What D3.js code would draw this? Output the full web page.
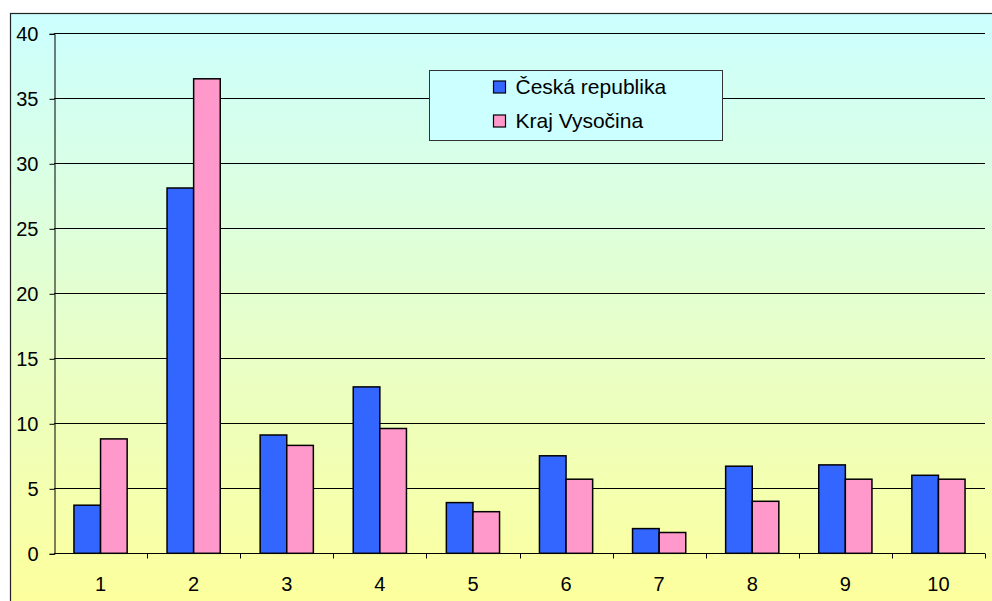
<!DOCTYPE html>
<html>
  <head>
    <meta charset="utf-8">
    <title>Česká republika / Kraj Vysočina</title>
    <style type="text/css">
        body{
            margin: 0;
            background: #ffffff;
        }
        svg text{
            font-family: "Liberation Sans", Arial, sans-serif;
            fill: #000;
        }
    </style>
  </head>
  <body>
    <div id="chart"></div>

    <script src="https://cdn.jsdelivr.net/npm/d3@7"></script>
    <script>
        // values
        var categories = ["1", "2", "3", "4", "5", "6", "7", "8", "9", "10"];
        var seriesNames = ["Česká republika", "Kraj Vysočina"];
        var ceskaRepublika = [3.7, 28.1, 9.1, 12.8, 3.9, 7.5, 1.9, 6.7, 6.8, 6.0];
        var krajVysocina = [8.8, 36.5, 8.3, 9.6, 3.2, 5.7, 1.6, 4.0, 5.7, 5.7];
        var yTicks = [0, 5, 10, 15, 20, 25, 30, 35, 40];
        var colors = ["#3366FF", "#FF99CC"];

        var width = 992, height = 601;

        var svg = d3.select("#chart").append("svg")
            .attr("width", width)
            .attr("height", height);

        //  Background gradient of the chart frame
        var defs = svg.append("defs");
        var grad = defs.append("linearGradient")
            .attr("id", "bg")
            .attr("x1", 0).attr("y1", 0)
            .attr("x2", 0).attr("y2", 1);
        grad.append("stop").attr("offset", "0%").attr("stop-color", "#CCFFFF");
        grad.append("stop").attr("offset", "100%").attr("stop-color", "#FFFF99");

        svg.append("rect")
            .attr("x", 10.5).attr("y", 13.5)
            .attr("width", 1000).attr("height", 610)
            .attr("fill", "url(#bg)")
            .attr("stroke", "#222")
            .attr("stroke-width", 1.2);

        var margin = {left: 54, top: 33.3, right: 985, bottom: 553.3};

        var x = d3.scaleBand()
            .domain(categories)
            .range([margin.left, margin.right])
            .paddingInner(0)
            .paddingOuter(0);

        //  Excel style gap width 150%
        var inner = d3.scaleBand()
            .domain(seriesNames)
            .range([0, x.bandwidth()])
            .paddingOuter(0.75)
            .paddingInner(0);

        var y = d3.scaleLinear()
            .domain([0, 40])
            .range([margin.bottom, margin.top]);

        //  Gridlines
        svg.append("g")
            .selectAll("line")
            .data(yTicks.slice(1))
            .enter().append("line")
            .attr("x1", margin.left)
            .attr("x2", margin.right)
            .attr("y1", (d) => Math.round(y(d)) + 0.5)
            .attr("y2", (d) => Math.round(y(d)) + 0.5)
            .attr("stroke", "#000")
            .attr("stroke-width", 1);

        //  Bars
        var series = [ceskaRepublika, krajVysocina];
        var bars = svg.append("g");
        series.forEach(function (vals, s) {
            bars.selectAll(".s" + s)
                .data(vals)
                .enter().append("rect")
                .attr("class", "s" + s)
                .attr("x", (d, i) => x(categories[i]) + inner(seriesNames[s]))
                .attr("y", (d) => y(d))
                .attr("width", inner.bandwidth())
                .attr("height", (d) => y(0) - y(d))
                .attr("fill", colors[s])
                .attr("stroke", "#000")
                .attr("stroke-width", 1.5);
        });

        //  Y axis
        var yAxis = d3.axisLeft(y)
            .tickValues(yTicks)
            .tickSize(5)
            .tickPadding(11)
            .tickFormat(d3.format("d"));
        var gy = svg.append("g")
            .attr("transform", "translate(" + (margin.left + 0.5) + ",0.5)")
            .call(yAxis);
        gy.select(".domain").attr("stroke", "#000");
        gy.selectAll(".tick line").attr("stroke", "#000");
        gy.selectAll("text").style("font-size", "20px");

        //  X axis
        var xAxis = d3.axisBottom(x)
            .tickSize(0)
            .tickPadding(23);
        var gx = svg.append("g")
            .attr("transform", "translate(0," + (Math.round(y(0)) + 0.5) + ")")
            .call(xAxis);
        gx.select(".domain").attr("stroke", "#000").attr("d", "M" + margin.left + ",0H" + margin.right);
        gx.selectAll("text").style("font-size", "20px");

        //  Tick marks between categories
        var bounds = categories.map((c) => x(c)).concat([margin.right]).slice(1);
        gx.selectAll(".sep")
            .data(bounds)
            .enter().append("line")
            .attr("class", "sep")
            .attr("x1", (d) => Math.round(d) + 0.5)
            .attr("x2", (d) => Math.round(d) + 0.5)
            .attr("y1", 0)
            .attr("y2", 5)
            .attr("stroke", "#000");

        //  Legend
        var legend = svg.append("g").attr("transform", "translate(429.5,70.5)");
        legend.append("rect")
            .attr("width", 293)
            .attr("height", 70)
            .attr("fill", "#CCFFFF")
            .attr("stroke", "#333")
            .attr("stroke-width", 1);
        var item = legend.selectAll(".item")
            .data(seriesNames)
            .enter().append("g")
            .attr("class", "item")
            .attr("transform", (d, i) => "translate(64," + (10.5 + i * 34) + ")");
        item.append("rect")
            .attr("width", 12)
            .attr("height", 12)
            .attr("fill", (d, i) => colors[i])
            .attr("stroke", "#000")
            .attr("stroke-width", 1.2);
        item.append("text")
            .attr("x", 22)
            .attr("y", 13)
            .style("font-size", "21px")
            .text((d) => d);
    </script>
  </body>
</html>
